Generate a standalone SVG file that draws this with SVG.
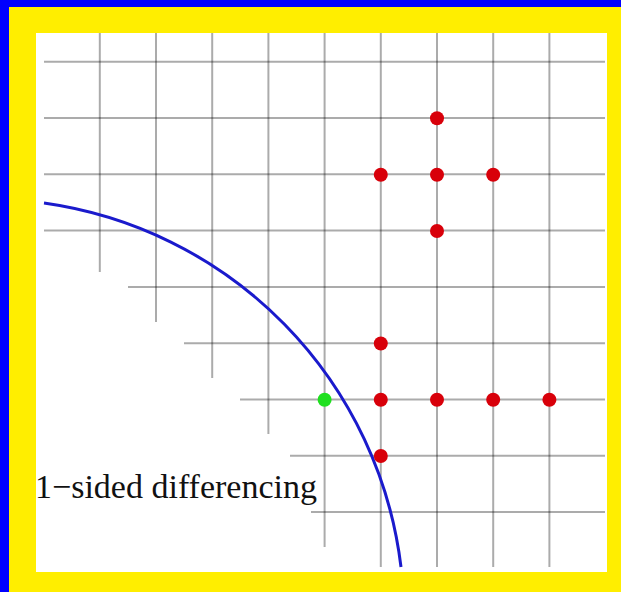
<svg xmlns="http://www.w3.org/2000/svg" width="621" height="592" viewBox="0 0 621 592">
<style>
.grid line{stroke:#000;stroke-opacity:0.33;stroke-width:2;fill:none}
.red{fill:#d8000a}
.green{fill:#1fe01f}
.curve{fill:none;stroke:#1a1acc;stroke-width:3}
.label{font-family:"Liberation Serif","Times New Roman",serif;font-size:34px;fill:#111}
</style>
<rect x="0" y="0" width="621" height="592" fill="#0000ff"/>
<rect x="9" y="7" width="612" height="585" fill="#ffee00"/>
<rect x="36" y="33" width="571" height="539" fill="#ffffff"/>
<g id="grid" class="grid">
<line x1="44" y1="61.7" x2="605" y2="61.7"/>
<line x1="44" y1="118" x2="605" y2="118"/>
<line x1="44" y1="174.3" x2="605" y2="174.3"/>
<line x1="44" y1="230.6" x2="605" y2="230.6"/>
<line x1="128" y1="286.9" x2="605" y2="286.9"/>
<line x1="184" y1="343.2" x2="605" y2="343.2"/>
<line x1="240" y1="399.5" x2="605" y2="399.5"/>
<line x1="290" y1="455.8" x2="605" y2="455.8"/>
<line x1="311" y1="512.1" x2="605" y2="512.1"/>
<line x1="99.8" y1="33" x2="99.8" y2="272"/>
<line x1="156" y1="33" x2="156" y2="322"/>
<line x1="212.2" y1="33" x2="212.2" y2="378"/>
<line x1="268.4" y1="33" x2="268.4" y2="434"/>
<line x1="324.6" y1="33" x2="324.6" y2="547"/>
<line x1="380.8" y1="33" x2="380.8" y2="567"/>
<line x1="437" y1="33" x2="437" y2="567"/>
<line x1="493.2" y1="33" x2="493.2" y2="567"/>
<line x1="549.4" y1="33" x2="549.4" y2="567"/>
</g>
<g id="connectors">
<path id="boundary" class="curve" d="M44,203 A418,418 0 0 1 401,567"/>
</g>
<g id="points">
<circle class="red" cx="437" cy="118.3" r="7"/>
<circle class="red" cx="380.8" cy="174.8" r="7"/>
<circle class="red" cx="437" cy="174.8" r="7"/>
<circle class="red" cx="493.2" cy="174.8" r="7"/>
<circle class="red" cx="437" cy="231" r="7"/>
<circle class="red" cx="380.8" cy="343.5" r="7"/>
<circle class="red" cx="380.8" cy="399.8" r="7"/>
<circle class="red" cx="437" cy="399.8" r="7"/>
<circle class="red" cx="493.2" cy="399.8" r="7"/>
<circle class="red" cx="549.4" cy="399.8" r="7"/>
<circle class="red" cx="380.8" cy="456" r="7"/>
<circle class="green" cx="324.6" cy="399.8" r="7"/>
</g>
<g id="label">
<text class="label" x="35" y="498">1−sided differencing</text>
</g>
</svg>
